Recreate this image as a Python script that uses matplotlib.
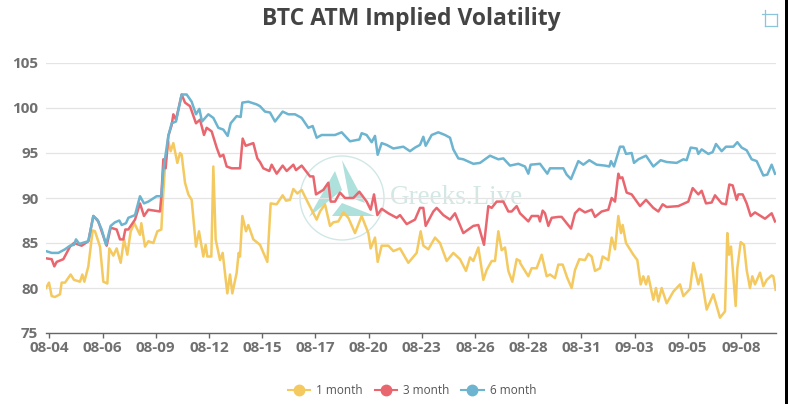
# BTC ATM implied volatility, 1 / 3 / 6 month

import numpy as np
import matplotlib.pyplot as plt
from matplotlib.patches import Circle, Polygon, Rectangle
from matplotlib.lines import Line2D

WIDTH = 788
HEIGHT = 404
TICK_START = 148
TICK_STEP = 159.6

labels = ['08-04', '08-06', '08-09', '08-12', '08-15', '08-17', '08-20',
          '08-23', '08-26', '08-28', '08-31', '09-03', '09-05', '09-08']


def shift(offset, rows):
    return [(t + offset, v) for t, v in rows]


# (sample, iv)
month1 = [(138,80.0),(147,80.6),(155,79.1),(165,79.0),(180,79.3),(185,80.6),(195,80.6),(212,81.5),(222,80.9),
    (240,80.7),(247,81.5),(253,80.7),(265,82.4),(270,83.9),(278,86.4),(285,86.3),(300,84.6),(310,80.7),(322,80.5),
    (328,84.4),(340,83.6),(350,84.4),(362,82.8),(372,85.4),(382,83.7),(392,86.3),(403,87.2),(420,85.9),(424,87.2),
    (435,84.6),(445,85.2),(460,85.0),(472,86.3),(484,86.5),(488,89.4),(495,93.5),(505,96.3),(512,95.2),(520,96.1),
    (532,93.9),(540,95.0),(545,94.8),(555,91.7),(565,90.4),(575,89.8),(588,84.6),(597,86.3),(610,83.5),(617,84.8),
    (622,83.5),(634,83.5),(640,93.5),(647,85.4),(660,83.1),(668,83.9),(682,79.4),(690,81.5),(697,79.4),(710,81.7),
    (716,83.9),(720,83.5),(727,88.0),(738,86.3),(745,87.0),(760,85.4),(780,84.8)]
month1 += shift(780, [(22,82.9),(32,89.4),(50,89.3),(68,90.3),(78,89.7),(90,89.8),(100,91.0),(112,90.5),(125,90.9),
    (145,89.4),(170,87.6),(180,88.5),(195,89.3),(210,86.9),(220,87.3),(235,87.4),(250,88.4),(265,87.8),(285,86.1),
    (305,88.0),(325,86.1),(332,84.4),(345,85.6),(353,82.9),(365,84.7),(385,84.7),(400,84.1),(420,84.4),(445,82.8),
    (470,83.9),(482,86.3),(490,84.7),(505,84.3),(525,85.6),(540,85.0),(560,83.0),(580,83.9),(600,83.2),(618,81.9),
    (630,83.4),(640,83.0),(655,84.5),(670,80.9),(680,82.0),(695,83.0),(705,83.0),(715,86.3),(725,84.2),(735,84.5),
    (745,81.9),(757,80.7),(770,83.2),(780,83.0)])
month1 += shift(1560, [(0,82.8),(25,81.3),(35,82.2),(50,82.2),(65,83.7),(80,81.3),(90,81.5),(105,81.1),(115,82.6),
    (128,82.6),(142,81.1),(155,80.0),(165,82.0),(178,83.2),(195,83.1),(205,83.8),(215,83.5),(225,81.9),(240,82.2),
    (248,83.5),(265,83.1),(275,85.6),(285,84.3),(295,88.0),(303,86.1),(308,87.0),(318,85.0),(340,83.7),(352,83.1),
    (362,80.4),(370,81.3),(378,80.4),(385,81.3),(400,78.7),(408,80.0),(415,78.5),(425,80.0),(440,78.3),(460,79.6),
    (480,80.4),(490,79.1),(510,79.9),(520,82.8),(535,80.4),(543,81.5),(560,77.6),(580,79.3),(600,76.7),(615,77.4),
    (622,86.1),(627,83.7),(633,84.6),(647,78.0),(652,82.2),(662,85.1),(672,84.8),(680,82.0),(690,80.0),(697,81.3),
    (705,80.4),(720,81.7),(730,80.2),(740,80.9),(755,81.4),(760,81.3),(767,79.8)])

month3 = [(138,83.3),(155,83.2),(163,82.4),(170,82.9),(190,83.2),(200,83.9),(210,84.6),(222,85.0),(245,84.7),
    (265,85.2),(280,88.0),(295,87.4),(305,86.3),(320,84.7),(332,86.7),(350,86.5),(360,85.4),(370,85.4),(376,86.5),
    (385,86.5),(405,87.6),(420,89.4),(432,88.0),(445,88.7),(480,88.5),(484,90.2),(490,94.3),(497,93.3),(505,96.9),
    (515,98.1),(520,99.3),(528,98.7),(545,101.5),(555,100.6),(570,100.2),(588,98.3),(600,98.7),(612,97.0),(620,97.8),
    (635,97.4),(650,95.6),(660,94.6),(670,94.8),(680,93.5),(695,93.3),(720,93.3),(728,96.6),(737,95.8),(760,96.1),
    (772,94.4),(780,94.0)]
month3 += shift(780, [(10,93.3),(28,93.0),(35,93.7),(50,92.7),(68,93.6),(80,93.0),(100,93.7),(108,93.1),(125,93.6),
    (150,92.4),(160,92.4),(168,90.4),(190,90.9),(205,91.7),(212,89.6),(225,89.6),(240,90.6),(255,90.0),(280,90.0),
    (298,90.7),(320,89.6),(332,88.7),(342,90.4),(352,88.1),(365,88.8),(385,88.3),(410,87.8),(420,88.1),(440,87.1),
    (465,87.6),(480,88.9),(490,88.9),(497,86.9),(520,88.5),(530,88.9),(550,88.1),(570,87.6),(585,88.3),(610,86.1),
    (640,86.9),(655,87.0),(672,84.8),(685,89.1),(695,88.9),(710,89.6),(730,89.6),(745,88.5),(755,88.5),(770,89.1)])
month3 += shift(1560, [(0,88.3),(25,87.4),(35,88.0),(55,88.0),(60,87.4),(68,88.6),(75,88.3),(85,86.9),(95,87.8),
    (115,87.9),(125,87.9),(140,87.2),(153,86.6),(165,88.3),(178,88.8),(195,88.4),(215,88.7),(225,87.9),(245,88.5),
    (265,88.7),(275,90.0),(285,89.6),(295,92.7),(300,92.2),(307,92.3),(320,90.6),(335,90.4),(360,89.1),(378,89.8),
    (400,88.9),(415,88.5),(428,89.3),(440,89.0),(475,89.1),(505,89.6),(518,91.1),(535,90.4),(545,90.8),(558,89.4),
    (575,89.5),(585,90.3),(605,89.4),(618,89.3),(628,91.5),(638,91.4),(650,89.8),(655,90.4),(668,90.4),(680,89.4),
    (692,88.0),(705,88.4),(735,87.7),(755,88.3),(765,87.4)])

month6 = [(138,84.1),(155,83.9),(175,83.9),(195,84.3),(210,84.7),(222,84.8),(228,85.4),(238,84.9),(265,85.2),
    (280,88.0),(292,87.6),(305,86.5),(318,84.8),(332,86.9),(345,87.3),(358,87.5),(365,87.0),(378,87.2),(385,87.8),
    (405,88.1),(420,90.2),(432,89.4),(445,89.6),(470,90.2),(484,90.2),(490,93.1),(505,96.9),(515,98.3),(528,98.5),
    (545,101.5),(560,101.5),(575,100.7),(588,99.3),(598,99.9),(606,98.5),(625,99.3),(640,98.9),(655,97.8),(670,97.6),
    (683,96.9),(692,98.3),(710,99.1),(722,99.0),(727,100.6),(745,100.7),(770,100.4)]
month6 += shift(780, [(0,100.2),(15,99.6),(30,99.5),(45,98.5),(68,99.6),(85,99.3),(105,99.3),(125,98.9),(145,97.8),
    (158,98.0),(170,96.7),(185,97.0),(205,97.0),(225,97.0),(245,97.3),(270,96.3),(298,96.5),(305,97.2),(320,97.0),
    (335,96.2),(345,96.9),(353,94.8),(365,96.1),(380,95.9),(400,95.5),(430,95.7),(450,95.2),(465,95.6),(480,95.9),
    (490,96.8),(497,95.8),(515,97.0),(535,97.3),(555,97.0),(570,96.7),(580,95.4),(595,94.4),(610,94.3),(640,93.8),
    (660,93.9),(690,94.7),(715,94.3),(730,94.4),(750,93.6),(775,93.8)])
month6 += shift(1560, [(15,93.5),(25,92.7),(32,93.7),(60,93.8),(82,92.7),(90,93.3),(130,93.3),(140,92.6),(153,92.1),
    (175,94.1),(190,93.7),(208,94.2),(230,93.7),(255,93.6),(268,93.5),(273,94.1),(282,93.5),(300,95.7),(310,95.7),
    (318,94.9),(335,95.0),(342,93.9),(355,94.3),(378,94.7),(400,93.5),(422,94.2),(440,94.0),(470,93.9),(490,94.3),
    (500,94.2),(512,95.6),(530,95.5),(535,94.9),(545,95.4),(565,94.9),(578,95.1),(588,96.0),(605,95.2),(618,95.7),
    (640,95.7),(652,96.2),(665,95.6),(680,95.3),(695,94.3),(710,94.1),(730,92.5),(742,92.6),(755,93.7),(765,92.7)])

series = {
    '1 month': (month1, '#f4c95f'),
    '3 month': (month3, '#e9666f'),
    '6 month': (month6, '#6cb4cf'),
}


def px(x, y):
    return x / WIDTH, 1 - y / HEIGHT


def draw_watermark(fig):
    teal = '#aee0dc'
    fig.add_artist(Circle((342, HEIGHT - 198), 42, transform=None, fill=False, ec='#cfe8e6', lw=1, zorder=-1))
    for tri in ([(309, 217), (335, 171), (342, 190)],
                [(342, 160), (365, 203), (349, 197)],
                [(332, 216), (342, 203), (375, 216)]):
        fig.add_artist(Polygon([px(*p) for p in tri], transform=fig.transFigure, fc=teal, ec='none', zorder=-1))
    x, y = px(390, 204)
    fig.text(x, y, 'Greeks.Live', family='Liberation Serif', fontsize=19.5, color='#d3e8e5', zorder=-1)


def draw_icon(fig):
    color = '#8cc4da'
    for xs, ys in (([762, 777], [14, 14]), ([765, 765], [10, 26]), ([765, 777], [26, 26]), ([777, 777], [14, 26])):
        fig.add_artist(Line2D([x / WIDTH for x in xs], [1 - y / HEIGHT for y in ys],
                              transform=fig.transFigure, color=color, lw=0.9))


if __name__ == "__main__":
    fig = plt.figure(figsize=(WIDTH / 100, HEIGHT / 100), dpi=100)
    ax = fig.add_axes([46 / WIDTH, 1 - 333 / HEIGHT, 730 / WIDTH, 270 / HEIGHT])
    ax.set_facecolor('none')

    for name, (rows, color) in series.items():
        t = np.array([r[0] for r in rows])
        iv = np.array([r[1] for r in rows])
        ax.plot(t, iv, color=color, lw=1.8, label=name, solid_joinstyle='round')

    ax.set_xlim(138, 2328)
    ax.set_ylim(75, 105)
    ax.set_yticks(range(75, 106, 5))
    ax.set_xticks([TICK_START + TICK_STEP * i for i in range(len(labels))])
    ax.set_xticklabels(labels)
    ax.yaxis.grid(True, color='#e4e4e4', lw=0.9)
    ax.set_axisbelow(True)
    for side in ['top', 'right', 'left']:
        ax.spines[side].set_visible(False)
    ax.spines['bottom'].set_color('#666666')
    ax.spines['bottom'].set_linewidth(1.0)
    ax.tick_params(axis='y', left=False, pad=2, labelsize=11, labelcolor='#707070')
    ax.tick_params(axis='x', length=3.5, width=1, color='#666666', pad=2, labelsize=11, labelcolor='#707070')
    for lab in ax.get_xticklabels() + ax.get_yticklabels():
        lab.set_family('Open Sans')
        lab.set_weight('bold')

    x, y = px(411, 19)
    fig.text(x, y, 'BTC ATM Implied Volatility', family='Open Sans', weight='bold',
             fontsize=16.5, color='#444444', ha='center', va='center')

    handles = [Line2D([], [], color=c, lw=1.5, marker='o', ms=7.5, label=n) for n, (_, c) in series.items()]
    x, y = px(412, 391)
    leg = fig.legend(handles=handles, loc='center', bbox_to_anchor=(x, y), ncol=3, frameon=False,
                     handlelength=1.9, handletextpad=0.5, columnspacing=1.0,
                     prop={'family': 'Open Sans', 'size': 8.5})
    for txt in leg.get_texts():
        txt.set_color('#555555')

    draw_watermark(fig)
    draw_icon(fig)
    fig.add_artist(Rectangle((785 / WIDTH, 0), 3 / WIDTH, 1, transform=fig.transFigure, fc='black', ec='none'))

    fig.savefig('out.png', dpi=100)
